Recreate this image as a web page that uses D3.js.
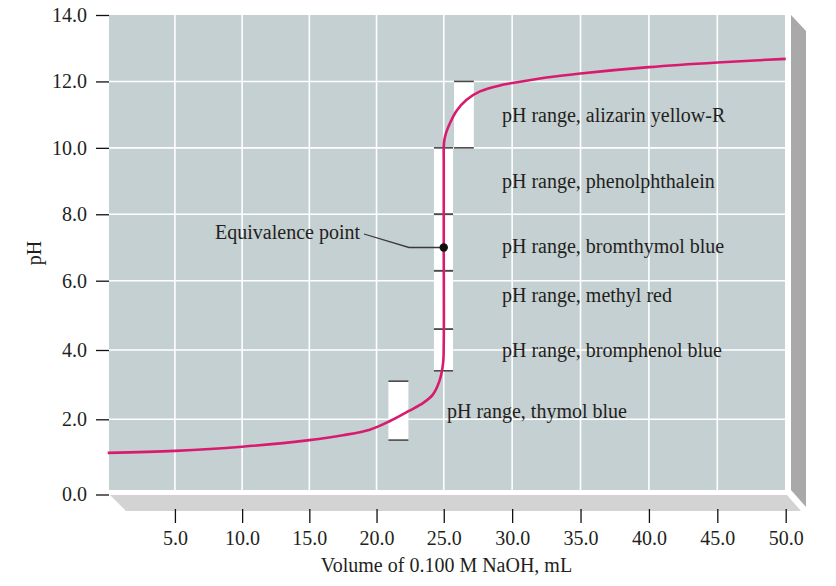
<!DOCTYPE html>
<html>
<head>
<meta charset="utf-8">
<script src="https://cdn.jsdelivr.net/npm/d3@7"></script>
<style>
  html, body { margin: 0; padding: 0; background: #ffffff; }
  svg { display: block; font-family: "Liberation Serif", "Times New Roman", serif; }
</style>
</head>
<body>
<svg id="chart" width="836" height="586"></svg>
<script>
// ---------- data ----------
const volumeMl = [0, 5, 10, 15, 17.5, 19.5, 21, 22.4, 23.5, 24.2, 24.7, 24.95, 25.0, 25.0, 25.0, 25.0, 25.05, 25.2, 25.46, 25.94, 26.67, 27.65, 29.1, 30, 32.5, 35, 40, 45, 50];
const phValues = [1.03, 1.09, 1.21, 1.40, 1.54, 1.70, 1.95, 2.24, 2.48, 2.72, 3.13, 3.62, 4.2, 7.0, 9.6, 10.02, 10.25, 10.49, 10.75, 11.12, 11.45, 11.70, 11.88, 11.95, 12.12, 12.24, 12.43, 12.57, 12.68];

const indicatorNames = ["thymol blue", "bromphenol blue", "methyl red", "bromthymol blue", "phenolphthalein", "alizarin yellow-R"];
const rangeLow  = [1.4, 3.4, 4.6, 6.3, 8.0, 10.0];
const rangeHigh = [3.1, 4.6, 6.3, 8.0, 10.0, 12.0];
const labelPh   = [2.25, 4.0, 5.6, 7.05, 9.0, 11.0];

const equivalence = { volume: 25.0, ph: 7.0, label: "Equivalence point" };

const xTicks = [5, 10, 15, 20, 25, 30, 35, 40, 45, 50];
const yTicks = [0, 2, 4, 6, 8, 10, 12, 14];
const xTitle = "Volume of 0.100 M NaOH, mL";
const yTitle = "pH";

// ---------- layout ----------
const svg = d3.select("#chart");
const x = d3.scaleLinear().domain([0, 25, 50]).range([107.7, 443.75, 785.7]);
const y = d3.scaleLinear().domain([2, 6, 14]).range([419.3, 280.7, 15]);

const face = { left: 109, right: 785, top: 15, bottom: 490 };
const FACE = "#c5d0d2", FLOOR = "#d3d3d3", WALL = "#a9a9a9";
const FS = 20;

// right wall (3D side)
svg.append("path")
  .attr("d", `M${face.right + 6},${face.top} L${face.right + 21},${face.top + 16} L${face.right + 21},${face.bottom + 17} L${face.right + 6},${face.bottom} Z`)
  .attr("fill", WALL);
// floor (3D base)
svg.append("path")
  .attr("d", `M${face.left + 1},${face.bottom + 5} L${face.right + 2},${face.bottom + 5} L${face.right + 16},${face.bottom + 21} L${face.left + 17},${face.bottom + 21} Z`)
  .attr("fill", FLOOR);

// face
svg.append("rect")
  .attr("x", face.left).attr("y", face.top)
  .attr("width", face.right - face.left).attr("height", face.bottom - face.top)
  .attr("fill", FACE);

// gridlines
const grid = svg.append("g").attr("stroke", "#ffffff").attr("stroke-width", 1.6);
grid.selectAll("line.v").data(xTicks.filter(d => d < 50)).join("line")
  .attr("x1", d => x(d)).attr("x2", d => x(d))
  .attr("y1", face.top).attr("y2", face.bottom);
grid.selectAll("line.h").data(yTicks.filter(d => d > 0 && d < 14)).join("line")
  .attr("y1", d => y(d)).attr("y2", d => y(d))
  .attr("x1", face.left).attr("x2", face.right);

// indicator range bars
const barVol = [[20.88, 22.37], [24.27, 25.68], [24.27, 25.68], [24.27, 25.68], [24.27, 25.68], [25.75, 27.2]];
const bars = svg.append("g");
indicatorNames.forEach((name, i) => {
  const [v0, v1] = barVol[i];
  bars.append("rect")
    .attr("x", x(v0)).attr("width", x(v1) - x(v0))
    .attr("y", y(rangeHigh[i])).attr("height", y(rangeLow[i]) - y(rangeHigh[i]))
    .attr("fill", "#ffffff");
});
// separator lines at range limits
const sep = svg.append("g").attr("stroke", "#4a4a4a").attr("stroke-width", 1.6);
indicatorNames.forEach((name, i) => {
  const [v0, v1] = barVol[i];
  [rangeLow[i], rangeHigh[i]].forEach(p => {
    sep.append("line")
      .attr("x1", x(v0)).attr("x2", x(v1))
      .attr("y1", y(p)).attr("y2", y(p));
  });
});

// labels
const labels = svg.append("g").attr("font-size", FS).attr("fill", "#231f20");
indicatorNames.forEach((name, i) => {
  labels.append("text")
    .attr("x", i === 0 ? 447 : 502)
    .attr("y", y(labelPh[i]))
    .attr("dy", "0.35em")
    .text("pH range, " + name);
});

// titration curve
const pts = volumeMl.map((v, i) => [x(v), y(phValues[i])]);
svg.append("path")
  .attr("d", d3.line().curve(d3.curveCatmullRom.alpha(0.5))(pts))
  .attr("fill", "none")
  .attr("stroke", "#d81b6f")
  .attr("stroke-width", 2.6);

// equivalence point annotation
const ex = x(equivalence.volume), ey = y(equivalence.ph);
svg.append("path")
  .attr("d", `M364,234 L409,${ey} L${ex},${ey}`)
  .attr("fill", "none").attr("stroke", "#3a3a3a").attr("stroke-width", 1.3);
svg.append("circle").attr("cx", ex).attr("cy", ey).attr("r", 4.2).attr("fill", "#111");
svg.append("text")
  .attr("x", 360).attr("y", 238.5)
  .attr("text-anchor", "end").attr("font-size", FS).attr("fill", "#231f20")
  .text(equivalence.label);

// y axis
const yAxis = svg.append("g")
  .attr("transform", `translate(${face.left},0)`)
  .call(d3.axisLeft(y).tickValues(yTicks).tickFormat(d3.format(".1f")).tickSize(13).tickPadding(9));
yAxis.select(".domain").remove();
yAxis.selectAll(".tick line").attr("stroke", "#111").attr("stroke-width", 1.3);
yAxis.selectAll(".tick text").attr("font-size", FS).attr("fill", "#231f20")
  .attr("font-family", "Liberation Serif, serif");
yAxis.selectAll(".tick").filter(d => d === 0)
  .attr("transform", `translate(0,${y(0) + 6.4})`);

// x axis
const xAxis = svg.append("g")
  .attr("transform", `translate(0,509)`)
  .call(d3.axisBottom(x).tickValues(xTicks).tickFormat(d3.format(".1f")).tickSize(14).tickPadding(8));
xAxis.select(".domain").remove();
xAxis.selectAll(".tick line").attr("stroke", "#111").attr("stroke-width", 1.3);
xAxis.selectAll(".tick text").attr("font-size", FS).attr("fill", "#231f20")
  .attr("font-family", "Liberation Serif, serif");

// axis titles
svg.append("text")
  .attr("x", 446.5).attr("y", 571.5)
  .attr("text-anchor", "middle").attr("font-size", FS).attr("fill", "#231f20")
  .text(xTitle);
svg.append("text")
  .attr("transform", "translate(41,253) rotate(-90)")
  .attr("text-anchor", "middle").attr("font-size", FS).attr("fill", "#231f20")
  .text(yTitle);
</script>
</body>
</html>
